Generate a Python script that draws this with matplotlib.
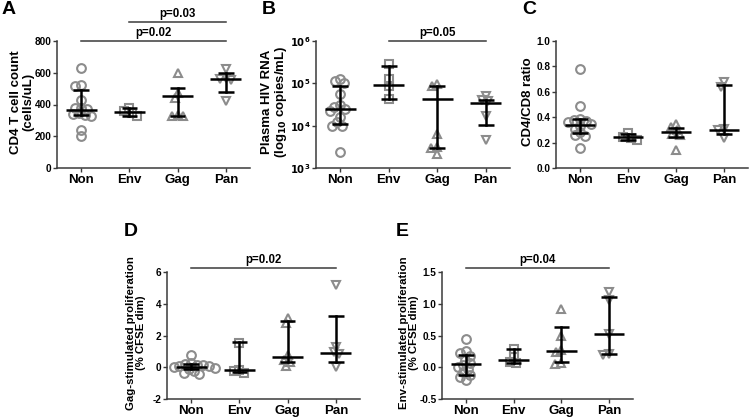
#!/usr/bin/env python3
import numpy as np
import matplotlib
matplotlib.use('Agg')
import matplotlib.pyplot as plt

plt.rcParams['font.family'] = ['Liberation Sans', 'DejaVu Sans']
plt.rcParams['font.weight'] = 'bold'
plt.rcParams['mathtext.default'] = 'bf'

groups = ['Non', 'Env', 'Gag', 'Pan']
markers = ['o', 's', '^', 'v']

# A: CD4 T cell count
cd4_non = [632, 520, 515, 430, 380, 375, 370, 345, 340, 335, 330, 240, 200]
cd4_env = [380, 360, 345, 330]
cd4_gag = [600, 475, 440, 335, 325, 325]
cd4_pan = [625, 570, 560, 555, 420]
cd4_med = [368, 353, 452, 559]
cd4_lo = [336, 325, 328, 479]
cd4_hi = [490, 380, 506, 599]

# B: plasma HIV RNA
rna_non = [1.3e5, 1.15e5, 1.0e5, 5.5e4, 3.0e4, 2.8e4, 2.5e4, 2.2e4, 1.6e4, 1.2e4, 1.0e4, 1.0e4, 2.4e3]
rna_env = [2.8e5, 1.25e5, 8.7e4, 4.2e4]
rna_gag = [9.5e4, 8.5e4, 6.4e3, 3.1e3, 3.0e3, 2.2e3]
rna_pan = [5.1e4, 4.0e4, 3.8e4, 1.7e4, 4.5e3]
rna_med = [2.5e4, 8.9e4, 4.2e4, 3.4e4]
rna_lo = [1.07e4, 4.3e4, 2.95e3, 1.04e4]
rna_hi = [8.6e4, 2.6e5, 8.8e4, 4.1e4]

# C: CD4/CD8 ratio
ratio_non = [0.78, 0.49, 0.385, 0.375, 0.37, 0.36, 0.35, 0.33, 0.31, 0.28, 0.26, 0.25, 0.16]
ratio_env = [0.275, 0.245, 0.235, 0.22]
ratio_gag = [0.35, 0.32, 0.30, 0.27, 0.26, 0.14]
ratio_pan = [0.68, 0.64, 0.31, 0.30, 0.24]
ratio_med = [0.342, 0.243, 0.287, 0.303]
ratio_lo = [0.274, 0.222, 0.243, 0.27]
ratio_hi = [0.386, 0.264, 0.316, 0.655]

# D: Gag-stimulated proliferation
gagp_non = [0.75, 0.25, 0.2, 0.15, 0.12, 0.1, 0.05, 0.0, -0.05, -0.1, -0.25, -0.35, -0.45]
gagp_env = [1.55, -0.15, -0.25, -0.35]
gagp_gag = [3.12, 2.76, 0.78, 0.47, 0.35, 0.05]
gagp_pan = [5.2, 1.3, 0.95, 0.85, 0.0]
gagp_med = [0.01, -0.2, 0.63, 0.87]
gagp_lo = [-0.14, -0.31, 0.3, 0.36]
gagp_hi = [0.2, 1.57, 2.9, 3.2]

# E: Env-stimulated proliferation
envp_non = [0.44, 0.25, 0.22, 0.18, 0.12, 0.07, 0.03, 0.0, -0.03, -0.08, -0.12, -0.16, -0.2]
envp_env = [0.29, 0.16, 0.08, 0.06]
envp_gag = [0.92, 0.50, 0.27, 0.24, 0.06, 0.05]
envp_pan = [1.18, 1.06, 0.53, 0.21, 0.20]
envp_med = [0.045, 0.12, 0.26, 0.52]
envp_lo = [-0.12, 0.07, 0.085, 0.21]
envp_hi = [0.19, 0.29, 0.63, 1.11]

W, H = 749, 418
GRAY = '#8c8c8c'
SPINE = '#3a3a3a'


def px_axes(l, r, t, b):
    return [l / W, 1 - b / H, (r - l) / W, (b - t) / H]


def swarm_offsets(ax, x0, ys, d):
    # simple beeswarm in pixel space, returns x data positions
    pts = ax.transData.transform(np.column_stack([np.full(len(ys), x0), ys]))
    xc = pts[0, 0]
    order = np.argsort(-np.asarray(ys))
    placed = []
    out = np.zeros(len(ys))
    for i in order:
        y = pts[i, 1]
        cands = [0.0]
        for (px, py) in placed:
            dy = abs(py - y)
            if dy < d:
                dx = np.sqrt(d * d - dy * dy) + 0.01
                cands += [px - xc + dx, px - xc - dx]
        cands.sort(key=lambda c: (abs(c), c))
        for c in cands:
            ok = all((xc + c - px) ** 2 + (y - py) ** 2 >= d * d - 0.1 for px, py in placed)
            if ok:
                break
        placed.append((xc + c, y))
        out[i] = xc + c
    inv = ax.transData.inverted()
    return inv.transform(np.column_stack([out, pts[:, 1]]))[:, 0]


def panel(fig, rect, data, med, lo, hi, ylim, yticks, yticklabels, log=False):
    ax = fig.add_axes(rect)
    if log:
        ax.set_yscale('log')
    ax.set_xlim(-0.5, 3.5)
    ax.set_ylim(*ylim)
    ax.set_yticks(yticks)
    ax.set_yticklabels(yticklabels)
    ax.minorticks_off()
    ax.set_xticks(range(4))
    ax.set_xticklabels(groups)
    for s in ['top', 'right']:
        ax.spines[s].set_visible(False)
    for s in ['left', 'bottom']:
        ax.spines[s].set_color(SPINE)
        ax.spines[s].set_linewidth(1.1)
    ax.tick_params(axis='y', labelsize=7.2, length=3, width=1, color=SPINE, pad=1)
    ax.tick_params(axis='x', labelsize=9.5, length=3, width=1, color=SPINE, pad=1.5)
    for i, ys in enumerate(data):
        xs = swarm_offsets(ax, i, ys, 6.0)
        ax.plot(xs, ys, linestyle='none', marker=markers[i], ms=6.3 if markers[i] != 's' else 5.6,
                mfc='none', mec=GRAY, mew=1.5, clip_on=False, zorder=2)
        ax.plot([i - 0.32, i + 0.32], [med[i], med[i]], color='black', lw=1.8, zorder=3,
                solid_capstyle='butt')
        ax.plot([i, i], [lo[i], hi[i]], color='black', lw=1.8, zorder=3)
        for v in (lo[i], hi[i]):
            ax.plot([i - 0.16, i + 0.16], [v, v], color='black', lw=1.8, zorder=3,
                    solid_capstyle='butt')
    return ax


def sig(ax, x1, x2, yfrac, text):
    tr = ax.get_xaxis_transform()
    ax.plot([x1, x2], [yfrac, yfrac], color=SPINE, lw=1.1, transform=tr, clip_on=False)
    ax.text((x1 + x2) / 2, yfrac + 0.015, text, transform=tr, ha='center', va='bottom',
            fontsize=8.3, fontweight='bold')


fig = plt.figure(figsize=(W / 100, H / 100), dpi=100)

axA = panel(fig, px_axes(57, 250, 41, 168), [cd4_non, cd4_env, cd4_gag, cd4_pan],
            cd4_med, cd4_lo, cd4_hi, (0, 800), [0, 200, 400, 600, 800],
            ['0', '200', '400', '600', '800'])
sig(axA, 0, 3, 1.0, 'p=0.02')
sig(axA, 1, 3, 1.15, 'p=0.03')

axB = panel(fig, px_axes(316, 510, 41, 168), [rna_non, rna_env, rna_gag, rna_pan],
            rna_med, rna_lo, rna_hi, (1e3, 1e6), [1e3, 1e4, 1e5, 1e6],
            ['$10^3$', '$10^4$', '$10^5$', '$10^6$'], log=True)
sig(axB, 1, 3, 1.0, 'p=0.05')

axC = panel(fig, px_axes(556, 748, 41, 168), [ratio_non, ratio_env, ratio_gag, ratio_pan],
            ratio_med, ratio_lo, ratio_hi, (0, 1.0), [0, 0.2, 0.4, 0.6, 0.8, 1.0],
            ['0.0', '0.2', '0.4', '0.6', '0.8', '1.0'])

axD = panel(fig, px_axes(167, 360, 272, 399), [gagp_non, gagp_env, gagp_gag, gagp_pan],
            gagp_med, gagp_lo, gagp_hi, (-2, 6), [-2, 0, 2, 4, 6],
            ['-2', '0', '2', '4', '6'])
sig(axD, 0, 3, 1.03, 'p=0.02')

axE = panel(fig, px_axes(442, 633, 272, 399), [envp_non, envp_env, envp_gag, envp_pan],
            envp_med, envp_lo, envp_hi, (-0.5, 1.5), [-0.5, 0, 0.5, 1.0, 1.5],
            ['-0.5', '0.0', '0.5', '1.0', '1.5'])
sig(axE, 0, 3, 1.03, 'p=0.04')

# y labels
fig.text(22 / W, 1 - 102 / H, 'CD4 T cell count\n(cells/uL)', rotation=90, ha='center',
         va='center', fontsize=9.5, fontweight='bold', linespacing=1.05)
fig.text(275 / W, 1 - 102 / H, 'Plasma HIV RNA\n(log$_{10}$ copies/mL)', rotation=90,
         ha='center', va='center', fontsize=9.5, fontweight='bold', linespacing=1.0)
fig.text(528 / W, 1 - 102 / H, 'CD4/CD8 ratio', rotation=90, ha='center', va='center',
         fontsize=9.5, fontweight='bold')
fig.text(136 / W, 1 - 333 / H, 'Gag-stimulated proliferation\n(% CFSE dim)', rotation=90,
         ha='center', va='center', fontsize=8.2, fontweight='bold', linespacing=1.05)
fig.text(409 / W, 1 - 333 / H, 'Env-stimulated proliferation\n(% CFSE dim)', rotation=90,
         ha='center', va='center', fontsize=8.2, fontweight='bold', linespacing=1.05)

# panel letters
for lab, x, y in [('A', 9, 9), ('B', 269, 10), ('C', 529, 10), ('D', 131, 231), ('E', 402, 231)]:
    fig.text(x / W, 1 - y / H, lab, ha='center', va='center', fontsize=14, fontweight='bold')

fig.savefig('out.png', dpi=100)
